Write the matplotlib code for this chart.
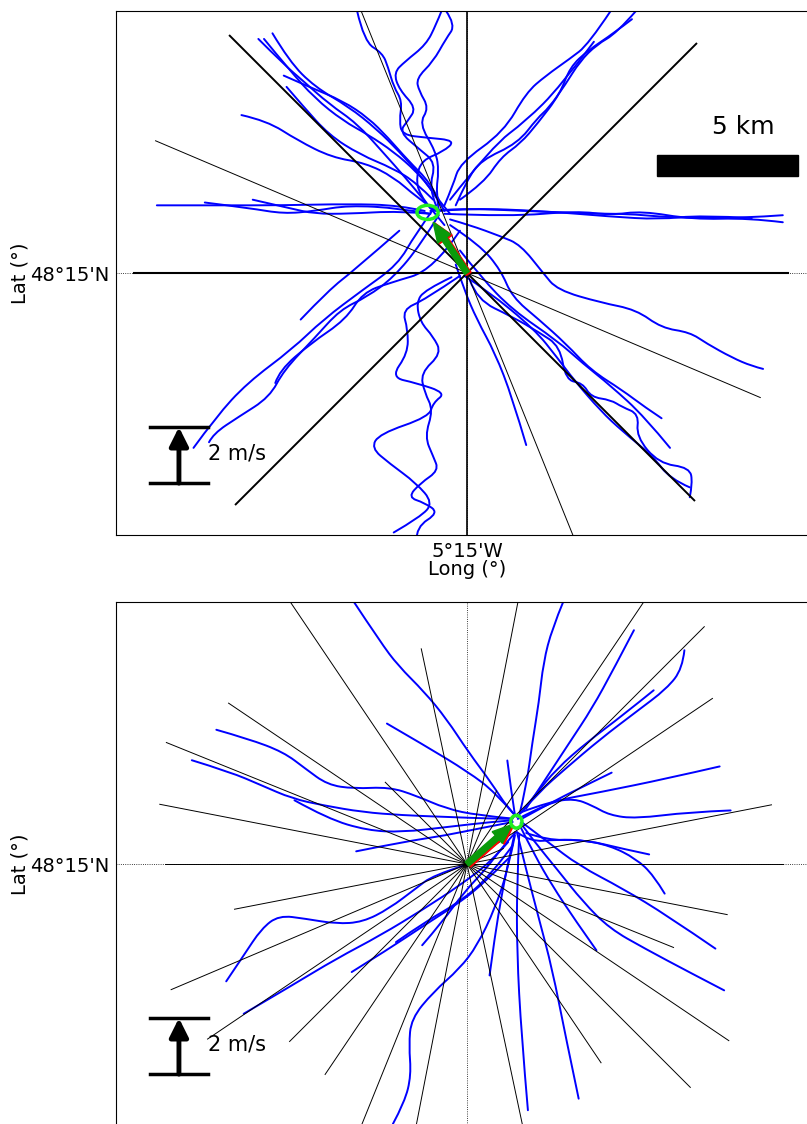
import matplotlib
matplotlib.use("Agg")
import numpy as np
import matplotlib.pyplot as plt
from matplotlib.patches import Rectangle, Ellipse, FancyArrow, PathPatch
from matplotlib.path import Path

# ---------------- data (km from release point) ----------------
# top panel drifter tracks
top_tracks = [
    [(-11.0, 2.4), (-8.9, 2.4), (-6.5, 2.4), (-4.2, 2.45), (-2.4, 2.4), (-1.5, 2.2)],
    [(-9.3, 2.5), (-7.7, 2.3), (-6.5, 2.1), (-5.4, 2.2), (-4.2, 2.4), (-2.4, 2.3), (-1.3, 2.1)],
    [(-7.6, 2.6), (-6.3, 2.3), (-5.4, 2.1), (-4.2, 2.1), (-2.4, 2.2), (-1.3, 2.1)],
    [(-1.3, 2.2), (-0.25, 2.3), (2.1, 2.2), (4.5, 2.1), (5.7, 2.1), (6.8, 2.0), (8.0, 1.95), (9.8, 1.95), (11.2, 2.05)],
    [(-0.8, 2.1), (1.5, 2.0), (3.9, 2.2), (5.1, 2.05), (6.2, 2.2), (8.0, 1.9), (10.0, 1.95), (11.2, 1.8)],
    [(-1.0, 2.2), (0.1, 2.3), (2.7, 2.2), (5.1, 2.0), (6.8, 1.9), (8.3, 2.05), (10.1, 1.95)],
    [(-6.9, 8.5), (-6.3, 7.5), (-5.4, 6.6), (-4.2, 5.9), (-3.2, 5.1), (-2.4, 4.3), (-1.6, 3.4), (-1.1, 2.7), (-0.6, 2.1)],
    [(-7.4, 8.3), (-6.5, 7.4), (-5.8, 6.8), (-4.9, 6.0), (-3.9, 5.3), (-3.0, 4.3), (-2.2, 3.4), (-1.5, 2.55), (-0.8, 1.7)],
    [(-7.2, 8.3), (-6.3, 7.2), (-5.4, 6.2), (-4.4, 5.4), (-3.5, 4.9), (-2.6, 4.3), (-1.8, 3.6), (-1.2, 2.9), (-0.8, 2.2)],
    [(-6.5, 7.0), (-5.6, 6.6), (-4.4, 6.1), (-3.5, 5.5), (-2.8, 4.8), (-2.1, 4.0), (-1.3, 3.2), (-1.0, 2.6)],
    [(-6.4, 6.6), (-5.8, 5.9), (-4.9, 4.9), (-3.8, 4.2), (-2.6, 3.7), (-1.8, 3.2), (-1.2, 2.6)],
    [(-8.0, 5.6), (-7.1, 5.4), (-6.0, 4.7), (-4.8, 4.1), (-3.6, 3.9), (-2.6, 3.4), (-1.8, 2.7), (-1.1, 2.2)],
    [(-3.9, 9.3), (-3.65, 8.2), (-3.0, 7.8), (-2.8, 7.3), (-2.6, 6.6), (-2.3, 6.1), (-2.4, 5.4), (-2.3, 4.9),
     (-1.45, 4.8), (-0.4, 4.7), (-0.85, 4.3), (-1.6, 4.0), (-1.8, 3.4), (-1.7, 2.8), (-1.3, 2.3)],
    [(-0.9, 9.3), (-1.1, 8.8), (-1.45, 8.1), (-2.2, 7.5), (-2.6, 7.1), (-2.4, 6.5), (-1.8, 5.85), (-2.1, 5.4),
     (-2.4, 5.0), (-1.7, 4.4), (-1.1, 3.9), (-1.35, 3.0), (-1.1, 2.4)],
    [(-0.75, 9.3), (-0.4, 8.8), (-0.75, 8.3), (-1.2, 7.5), (-1.8, 6.9), (-1.7, 6.45), (-1.35, 5.85), (-1.7, 5.3),
     (-1.1, 4.3), (-1.0, 3.6), (-1.1, 2.9), (-1.0, 2.2)],
    [(-0.8, 2.4), (-0.5, 3.1), (-0.25, 3.9), (1.3, 5.0), (2.1, 6.4), (2.8, 7.0), (3.65, 7.6), (4.3, 8.1), (5.1, 9.3)],
    [(-0.25, 2.6), (0.6, 3.2), (1.2, 4.1), (1.9, 4.6), (2.5, 5.3), (3.3, 6.35), (3.65, 7.3), (4.3, 7.9), (5.2, 8.5), (5.85, 9.0)],
    [(-0.4, 2.4), (0.0, 3.3), (0.5, 4.0), (1.8, 4.6), (2.5, 5.5), (2.9, 5.85), (3.5, 6.7), (4.0, 7.5), (4.6, 8.1), (5.3, 8.5), (6.0, 9.3)],
    [(-0.6, 2.6), (0.9, 4.5), (2.1, 5.4), (3.3, 6.6), (4.5, 8.2)],
    [(-0.6, 1.9), (0.1, 1.7), (1.2, 1.3), (1.9, 1.0), (2.7, 0.0), (3.2, -0.6), (4.75, -1.05), (6.0, -1.3), (6.9, -1.95),
     (7.9, -2.1), (8.5, -2.5), (9.4, -3.0), (10.1, -3.3), (10.5, -3.4)],
    [(-0.6, 1.7), (0.45, 1.0), (1.2, 0.1), (1.6, -0.85), (2.55, -1.65), (3.5, -2.5), (4.4, -3.45), (5.5, -4.15), (6.3, -4.75), (6.9, -5.15)],
    [(-0.25, 0.8), (0.5, -0.15), (1.6, -1.3), (3.2, -2.4), (4.1, -3.2), (5.1, -4.0), (6.3, -5.1), (7.2, -6.2)],
    [(0.1, -0.25), (0.35, -0.95), (1.6, -1.55), (2.55, -2.1), (3.3, -2.6), (3.5, -3.8), (4.1, -3.9), (4.4, -4.4), (5.1, -4.5),
     (5.5, -4.75), (6.1, -5.0), (6.0, -5.8), (6.8, -6.75), (7.9, -6.9), (8.0, -7.45), (7.9, -7.95)],
    [(-0.1, -0.1), (0.7, -0.6), (2.4, -2.0), (3.2, -3.0), (3.8, -3.8), (4.75, -4.9), (5.5, -5.6), (6.6, -6.5), (7.2, -7.3), (7.9, -7.6)],
    [(-0.4, 0.3), (-0.1, -0.6), (0.35, -1.65), (1.0, -2.85), (1.6, -4.4), (2.1, -6.1)],
    [(-0.25, -0.1), (-1.5, -0.95), (-2.3, -1.3), (-2.1, -2.0), (-2.1, -2.85), (-2.7, -3.7), (-1.8, -3.9), (-0.75, -4.25),
     (-1.2, -4.6), (-1.35, -5.1), (-3.1, -5.7), (-3.4, -6.2), (-2.75, -6.75), (-1.8, -7.45), (-1.2, -8.15), (-1.65, -8.65), (-2.6, -9.2)],
    [(-0.55, -0.15), (-1.5, -0.6), (-1.8, -1.05), (-1.65, -1.75), (-1.2, -2.25), (-0.9, -2.85), (-1.65, -3.55), (-1.5, -4.25),
     (-1.2, -4.85), (-1.5, -5.8), (-1.2, -6.5), (-1.0, -7.0), (-1.65, -7.45), (-2.1, -7.95), (-1.5, -8.15), (-1.0, -8.5),
     (-1.8, -9.0), (-1.8, -9.5)],
    [(-1.1, 2.4), (-1.85, 1.35), (-2.45, 0.3), (-3.7, -0.6), (-5.1, -1.65), (-6.2, -2.7), (-7.8, -3.9), (-8.9, -5.1), (-9.7, -6.2)],
    [(-1.0, 2.05), (-1.65, 1.0), (-2.6, -0.15), (-3.55, -0.85), (-4.5, -1.3), (-5.4, -2.3), (-6.5, -3.45), (-7.0, -4.4),
     (-8.1, -5.1), (-9.0, -5.7), (-9.15, -6.0)],
    [(-0.25, 1.5), (-1.2, 0.1), (-2.75, -0.35), (-3.7, -0.7), (-4.3, -1.65), (-5.55, -2.5), (-6.65, -3.45), (-6.8, -3.9)],
    [(-2.4, 1.5), (-4.0, 0.1), (-4.9, -0.6), (-5.9, -1.65)],
]

# bottom panel drifter tracks
bot_tracks = [
    [(-4.01, 9.29), (-3.07, 7.87), (-2.45, 7.04), (-1.51, 6.10), (-0.73, 5.15), (0.05, 3.97), (0.84, 2.91), (1.46, 1.96), (1.77, 1.67)],
    [(-2.84, 4.98), (-1.51, 4.21), (0.05, 3.26), (0.99, 2.55), (1.70, 1.73)],
    [(3.41, 9.29), (3.02, 8.35), (2.71, 7.16), (2.55, 5.74), (2.32, 4.33), (2.09, 2.67), (1.85, 1.72)],
    [(5.92, 8.29), (5.21, 6.93), (4.43, 5.51), (3.65, 4.33), (2.87, 3.14), (2.09, 1.96)],
    [(7.71, 7.58), (7.64, 6.93), (7.09, 6.22), (5.99, 5.39), (4.74, 4.44), (3.49, 3.38), (2.55, 2.55), (1.93, 1.84)],
    [(6.62, 6.16), (5.52, 5.27), (4.27, 4.33), (3.18, 3.38), (2.40, 2.43), (1.9, 1.8)],
    [(8.96, 3.46), (7.09, 3.03), (4.74, 2.55), (2.87, 2.20), (1.93, 1.84)],
    [(5.13, 3.24), (3.96, 2.67), (3.02, 2.20), (1.93, 1.6)],
    [(1.8, 1.6), (2.95, 2.20), (3.80, 2.32), (4.43, 2.08), (5.06, 1.73), (5.99, 1.61), (7.87, 1.84), (9.35, 1.90)],
    [(6.46, 0.34), (5.52, 0.54), (4.27, 0.84), (3.18, 0.87), (2.24, 0.78), (1.77, 1.13)],
    [(7.01, -1.05), (6.62, -0.40), (5.99, 0.19), (5.06, 0.66), (3.96, 0.87), (2.87, 0.84), (2.1, 1.1)],
    [(8.81, -3.00), (7.09, -1.82), (5.52, -0.87), (3.96, -0.05), (2.87, 0.78), (1.93, 1.49)],
    [(9.12, -4.48), (7.87, -3.83), (6.31, -3.00), (5.06, -2.29), (4.12, -1.35), (3.18, -0.17), (2.40, 0.78), (1.9, 1.45)],
    [(4.59, -3.06), (3.80, -1.94), (3.02, -0.76), (2.40, 0.31), (1.93, 1.25)],
    [(3.96, -8.32), (3.49, -6.08), (3.02, -3.71), (2.55, -1.94), (2.09, -0.17), (1.77, 1.13)],
    [(2.16, -8.73), (1.93, -6.08), (1.77, -3.12), (1.77, -0.76), (1.85, 1.02)],
    [(0.80, -3.95), (0.99, -2.53), (1.23, -1.11), (1.46, 0.07), (1.70, 1.13)],
    [(-2.63, -9.22), (-2.21, -8.44), (-1.98, -7.49), (-2.06, -6.43), (-1.98, -5.49), (-1.20, -4.54), (-0.26, -3.71),
     (0.37, -2.88), (0.99, -1.58), (1.46, -0.17), (1.70, 1.02)],
    [(-1.59, -2.88), (-0.88, -2.06), (-0.10, -0.99), (0.68, -0.17), (1.30, 0.66), (1.7, 1.1)],
    [(-2.52, -2.77), (-1.51, -2.06), (-0.26, -1.35), (0.84, -0.40), (1.62, 0.66)],
    [(-4.09, -3.83), (-2.76, -3.00), (-1.51, -2.17), (-0.42, -1.47), (0.52, -0.76), (1.46, 0.19)],
    [(-7.92, -5.31), (-6.20, -4.30), (-4.64, -3.36), (-3.07, -2.53), (-1.51, -1.58), (-0.26, -0.76), (0.84, 0.07), (1.46, 0.78)],
    [(-8.54, -4.16), (-7.92, -3.24), (-7.29, -2.29), (-6.67, -1.82), (-5.73, -1.94), (-4.64, -2.12), (-3.70, -2.06),
     (-2.76, -1.58), (-1.82, -0.87), (-1.20, -0.40), (-0.10, -0.05)],
    [(-3.93, 0.45), (-2.29, 0.78), (-0.73, 1.02), (0.37, 1.25), (1.62, 1.49)],
    [(-8.89, 4.76), (-7.76, 4.44), (-6.51, 3.97), (-5.73, 3.38), (-4.95, 2.81), (-4.01, 2.67), (-2.76, 2.73),
     (-1.82, 2.43), (-0.73, 1.96), (0.37, 1.73), (1.62, 1.61)],
    [(-9.76, 3.68), (-8.39, 3.26), (-7.29, 2.79), (-6.20, 2.32), (-5.10, 2.08), (-3.70, 1.84), (-2.29, 1.73),
     (-0.73, 1.67), (0.84, 1.61), (1.6, 1.6)],
    [(-6.12, 2.26), (-4.95, 1.61), (-3.54, 1.19), (-2.29, 1.13), (-0.73, 1.31), (0.84, 1.49), (1.6, 1.55)],
    [(1.43, 3.67), (1.55, 2.7), (1.70, 1.73)],
]

# reference lines through the release point: angle (deg), length ahead, length behind (km), width
top_ray_ang = [0, 90, 45, 135, 157, 112]
top_ray_fwd = [11.4, 12, 11.5, 11.9, 12.0, 12]
top_ray_back = [11.8, 12, 11.6, 11.4, 11.3, 12]
top_ray_lw = [1.5, 1.2, 1.4, 1.4, 0.7, 0.7]

bot_ray_ang = [0, 11, 23, 34, 45, 56, 68, 79, 102, 124, 135, 146, 158, 169]
bot_ray_fwd = [11.2, 11.0, 1.4, 10.5, 11.9, 12, 2.8, 12, 7.8, 12, 4.1, 10.2, 11.5, 11.1]
bot_ray_back = [10.7, 8.4, 11.4, 11.1, 8.9, 9.0, 12, 12, 12, 8.5, 11.2, 11.2, 7.9, 9.4]

# mean drift vectors and their end points
top_mean_vec = (-1.2, 1.8)
top_mean_end = (-1.4, 2.15)
bot_mean_vec = (1.6, 1.4)
bot_mean_end = (1.75, 1.5)

lon_label = "5°15'W"
lat_label = "48°15'N"


def smooth_path(pts):
    # quadratic bezier through the track points (points act as control points)
    pts = np.asarray(pts, dtype=float)
    if len(pts) < 3:
        return Path(pts)
    verts = [pts[0]]
    codes = [Path.MOVETO]
    for i in range(1, len(pts) - 1):
        end = pts[i + 1] if i == len(pts) - 2 else (pts[i] + pts[i + 1]) / 2
        verts += [pts[i], end]
        codes += [Path.CURVE3, Path.CURVE3]
    return Path(verts, codes)


# ---------------- figure ----------------
fig = plt.figure(figsize=(8.07, 11.24), dpi=100)
ax_top = fig.add_axes([0.1437, 0.524, 0.870, 0.4662])
ax_bot = fig.add_axes([0.1437, -0.0018, 0.870, 0.4662])


def draw_panel(ax, tracks, ang, fwd, back, lws, mvec, mend, end_size):
    ax.axhline(0, color='k', lw=0.6, ls=':', zorder=1)
    ax.axvline(0, color='k', lw=0.6, ls=':', zorder=1)
    for tr in tracks:
        ax.add_patch(PathPatch(smooth_path(tr), fill=False, ec='#0000ff', lw=1.4,
                               capstyle='round', joinstyle='round', zorder=2))
    for a, f, b, w in zip(ang, fwd, back, lws):
        d = np.array([np.cos(np.radians(a)), np.sin(np.radians(a))])
        ax.plot([-b * d[0], f * d[0]], [-b * d[1], f * d[1]], color='k', lw=w, zorder=3)
    # mean vector (red under green)
    ax.add_patch(FancyArrow(0.06, -0.03, mvec[0], mvec[1], width=0.2, head_width=0.55,
                            head_length=0.7, length_includes_head=True, color='red', zorder=4))
    ax.add_patch(FancyArrow(0, 0, mvec[0], mvec[1], width=0.2, head_width=0.55,
                            head_length=0.7, length_includes_head=True, color='#0a9a0a', zorder=5))
    ax.add_patch(Ellipse(mend, end_size[0], end_size[1], fill=False, ec='#22ee22', lw=2.5, zorder=6))
    ax.set_xlim(-12.45, 12.45)
    ax.set_ylim(-9.29, 9.29)
    ax.set_xticks([0])
    ax.set_xticklabels([lon_label])
    ax.set_yticks([0])
    ax.set_yticklabels([lat_label])
    ax.tick_params(length=0, labelsize=14, pad=5)
    ax.set_ylabel("Lat (°)", fontsize=14, labelpad=0)
    # velocity key
    ax.plot([0.048, 0.131], [0.206, 0.206], color='k', lw=2.5, transform=ax.transAxes, zorder=7)
    ax.plot([0.048, 0.131], [0.099, 0.099], color='k', lw=2.5, transform=ax.transAxes, zorder=7)
    ax.annotate('', xy=(0.0897, 0.206), xytext=(0.0897, 0.099), xycoords='axes fraction',
                arrowprops=dict(arrowstyle='-|>', lw=3.5, color='k', mutation_scale=28,
                                shrinkA=0, shrinkB=0), zorder=7)
    ax.text(0.131, 0.155, "2 m/s", fontsize=15, ha='left', va='center', transform=ax.transAxes)


draw_panel(ax_top, top_tracks, top_ray_ang, top_ray_fwd, top_ray_back, top_ray_lw,
           top_mean_vec, top_mean_end, (0.75, 0.5))
draw_panel(ax_bot, bot_tracks, bot_ray_ang, bot_ray_fwd, bot_ray_back, [0.7] * len(bot_ray_ang),
           bot_mean_vec, bot_mean_end, (0.4, 0.45))

ax_top.set_xlabel("Long (°)", fontsize=14, labelpad=-1)
ax_bot.set_xticklabels([])

# scale bar
ax_top.add_patch(Rectangle((0.7707, 0.685), 0.2009, 0.040, transform=ax_top.transAxes,
                           color='k', zorder=7))
ax_top.text(0.894, 0.779, "5 km", fontsize=18, ha='center', va='center', transform=ax_top.transAxes)

fig.savefig("out.png", dpi=100)
